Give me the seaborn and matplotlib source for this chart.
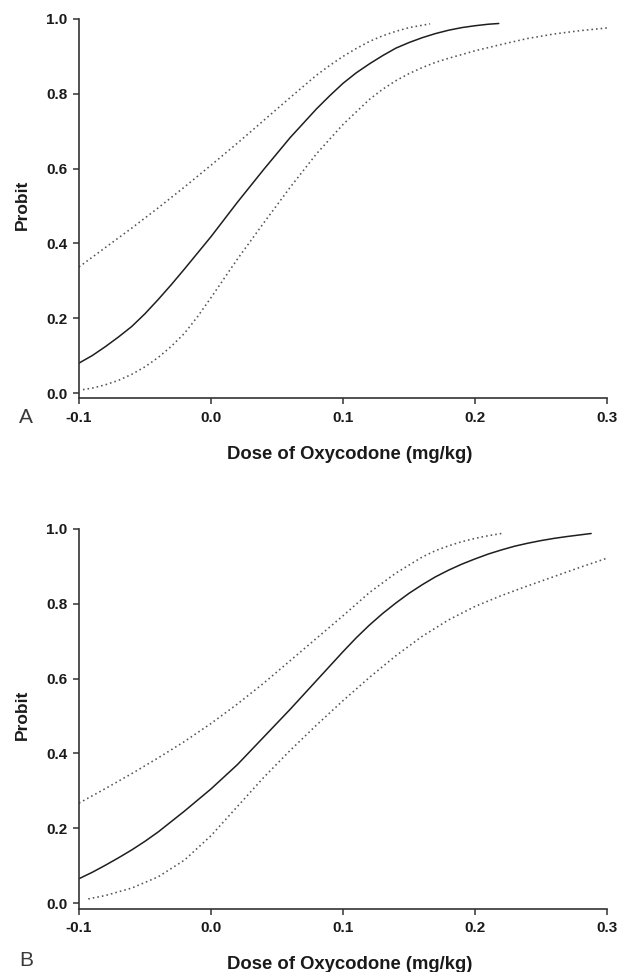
import numpy as np
import pandas as pd
import matplotlib
matplotlib.use("Agg")
import matplotlib.pyplot as plt
import seaborn as sns

# ---------------- data ----------------
# Panel A
a_fit_x = [-0.10, -0.09, -0.08, -0.07, -0.06, -0.05, -0.04, -0.03, -0.02, 0.00, 0.02, 0.04, 0.06,
           0.08, 0.09, 0.10, 0.11, 0.12, 0.13, 0.14, 0.15, 0.16, 0.17, 0.18, 0.19, 0.20, 0.21, 0.218]
a_fit_y = [0.080, 0.100, 0.124, 0.150, 0.178, 0.212, 0.250, 0.290, 0.332, 0.418, 0.510, 0.598, 0.683,
           0.760, 0.795, 0.828, 0.856, 0.880, 0.902, 0.922, 0.937, 0.950, 0.961, 0.970, 0.977, 0.982, 0.986, 0.988]

a_up_x = [-0.10, -0.08, -0.06, -0.04, -0.02, 0.00, 0.02, 0.04, 0.06, 0.07, 0.08, 0.09, 0.10,
          0.11, 0.12, 0.13, 0.14, 0.15, 0.166]
a_up_y = [0.337, 0.389, 0.441, 0.495, 0.551, 0.609, 0.668, 0.729, 0.790, 0.820, 0.850, 0.876, 0.900,
          0.921, 0.940, 0.955, 0.967, 0.977, 0.987]

a_lo_x = [-0.097, -0.09, -0.08, -0.07, -0.06, -0.05, -0.04, -0.03, -0.02, -0.01, 0.00, 0.02, 0.04,
          0.06, 0.08, 0.10, 0.12, 0.13, 0.14, 0.15, 0.16, 0.17, 0.18, 0.20, 0.22, 0.24, 0.26, 0.28, 0.30]
a_lo_y = [0.009, 0.013, 0.022, 0.034, 0.050, 0.070, 0.095, 0.125, 0.160, 0.205, 0.255, 0.358, 0.455,
          0.550, 0.640, 0.718, 0.785, 0.812, 0.835, 0.854, 0.870, 0.884, 0.895, 0.915, 0.932, 0.948, 0.960, 0.969, 0.976]

# Panel B
b_fit_x = [-0.10, -0.09, -0.08, -0.07, -0.06, -0.05, -0.04, -0.02, 0.00, 0.02, 0.04, 0.06, 0.08,
           0.10, 0.11, 0.12, 0.13, 0.14, 0.15, 0.16, 0.17, 0.18, 0.19, 0.20, 0.21, 0.22, 0.23,
           0.24, 0.25, 0.26, 0.27, 0.288]
b_fit_y = [0.065, 0.082, 0.101, 0.121, 0.142, 0.165, 0.190, 0.246, 0.305, 0.370, 0.444, 0.518, 0.595,
           0.672, 0.709, 0.743, 0.774, 0.802, 0.828, 0.851, 0.872, 0.890, 0.906, 0.920, 0.933, 0.944, 0.954,
           0.962, 0.969, 0.975, 0.980, 0.988]

b_up_x = [-0.10, -0.08, -0.06, -0.04, -0.02, 0.00, 0.02, 0.04, 0.06, 0.08, 0.10, 0.12, 0.14,
          0.16, 0.17, 0.18, 0.19, 0.20, 0.21, 0.22]
b_up_y = [0.267, 0.306, 0.346, 0.388, 0.432, 0.480, 0.532, 0.588, 0.648, 0.708, 0.768, 0.830, 0.882,
          0.925, 0.942, 0.955, 0.966, 0.975, 0.982, 0.988]

b_lo_x = [-0.093, -0.08, -0.06, -0.04, -0.02, 0.00, 0.02, 0.04, 0.06, 0.08, 0.10, 0.12, 0.14,
          0.16, 0.18, 0.20, 0.22, 0.24, 0.26, 0.28, 0.30]
b_lo_y = [0.011, 0.020, 0.040, 0.070, 0.115, 0.180, 0.258, 0.336, 0.408, 0.476, 0.541, 0.603, 0.661,
          0.713, 0.757, 0.793, 0.822, 0.848, 0.873, 0.898, 0.922]

x_ticks = [-0.1, 0.0, 0.1, 0.2, 0.3]
x_ticklabels = ["-0.1", "0.0", "0.1", "0.2", "0.3"]
y_ticks = [0.0, 0.2, 0.4, 0.6, 0.8, 1.0]
y_ticklabels = ["0.0", "0.2", "0.4", "0.6", "0.8", "1.0"]
x_label = "Dose of Oxycodone (mg/kg)"
y_label = "Probit"
panel_letters = ["A", "B"]

# ---------------- styling ----------------
sns.set_theme(style="ticks")
plt.rcParams["font.family"] = ["Liberation Sans", "DejaVu Sans"]

W, H = 636, 972
fig = plt.figure(figsize=(W / 100, H / 100), dpi=100)
fig.patch.set_facecolor("white")

AX_H = 379.5
axA = fig.add_axes([79 / W, 1 - 398.5 / H, 528 / W, AX_H / H])
axB = fig.add_axes([79 / W, 1 - 908.5 / H, 528 / W, AX_H / H])

solid_kw = dict(color="#1e1e1e", linewidth=1.1, estimator=None, sort=False)
dot_kw = dict(color="#555555", linewidth=1.15, estimator=None, sort=False)


def draw(ax, fx, fy, ux, uy, lx, ly):
    sns.lineplot(data=pd.DataFrame({"x": ux, "y": uy}), x="x", y="y", ax=ax, **dot_kw)
    sns.lineplot(data=pd.DataFrame({"x": lx, "y": ly}), x="x", y="y", ax=ax, **dot_kw)
    sns.lineplot(data=pd.DataFrame({"x": fx, "y": fy}), x="x", y="y", ax=ax, **solid_kw)
    for ln in ax.lines[:2]:
        ln.set_linestyle((0, (1.0, 1.9)))
    for ln in ax.lines:
        ln.set_solid_joinstyle("round")
    ax.set_xlim(-0.1, 0.3)
    ax.set_ylim(-0.0147, 1.0)
    ax.set_xticks(x_ticks)
    ax.set_xticklabels(x_ticklabels)
    ax.set_yticks(y_ticks)
    ax.set_yticklabels(y_ticklabels)
    for s in ["top", "right"]:
        ax.spines[s].set_visible(False)
    for s in ["left", "bottom"]:
        ax.spines[s].set_linewidth(1.2)
        ax.spines[s].set_color("#333333")
    ax.tick_params(axis="both", direction="out", length=4.2, width=1.1,
                   color="#333333", labelsize=11, labelcolor="#1a1a1a")
    ax.tick_params(axis="x", pad=4.8)
    ax.tick_params(axis="y", pad=4.3)
    for lab in ax.get_xticklabels() + ax.get_yticklabels():
        lab.set_fontweight("bold")
    ax.set_xlabel(x_label, fontsize=13.3, fontweight="bold", color="#1a1a1a")
    ax.set_ylabel(y_label, fontsize=12.5, fontweight="bold", color="#1a1a1a")
    ax.xaxis.label.set_va("baseline")
    ax.xaxis.set_label_coords(0.513, (398.5 - 459.0) / AX_H)
    ax.yaxis.label.set_va("center")
    ax.yaxis.set_label_coords((22 - 79) / 528, (398.5 - 205) / AX_H)
    ax.set_facecolor("white")


draw(axA, a_fit_x, a_fit_y, a_up_x, a_up_y, a_lo_x, a_lo_y)
draw(axB, b_fit_x, b_fit_y, b_up_x, b_up_y, b_lo_x, b_lo_y)

fig.text(26 / W, 1 - 417.5 / H, panel_letters[0], fontsize=15, color="#3a3a3a",
         ha="center", va="center")
fig.text(26 / W, 1 - 960.5 / H, panel_letters[1], fontsize=15, color="#3a3a3a",
         ha="center", va="center")

fig.savefig("out.png", dpi=100, facecolor="white")
